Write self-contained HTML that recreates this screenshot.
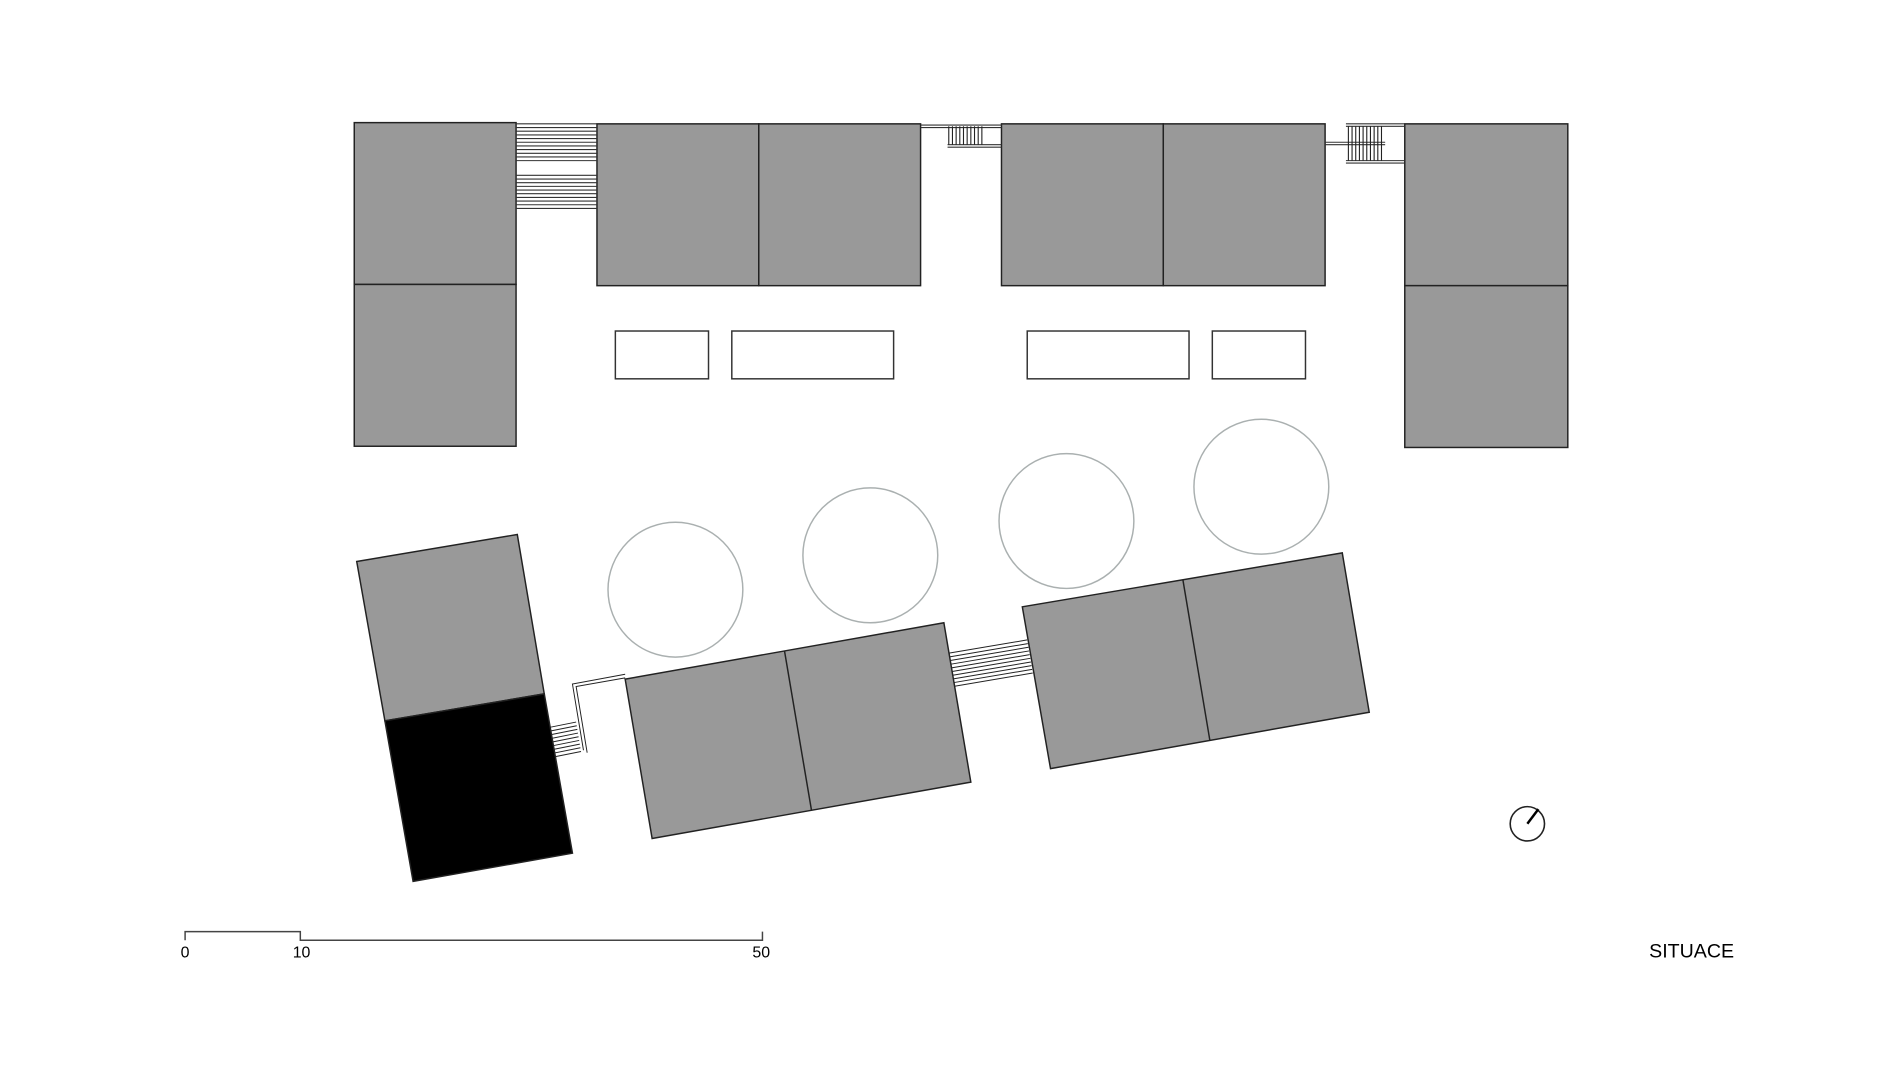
<!DOCTYPE html>
<html><head><meta charset="utf-8"><style>
html,body{margin:0;padding:0;background:#fff;}
svg{display:block}
</style></head><body>
<svg width="1900" height="1069" viewBox="0 0 1550 872" xmlns="http://www.w3.org/2000/svg">
<g fill="#999" stroke="#222" stroke-width="1.2">
<rect x="289" y="100" width="132" height="132"/>
<rect x="289" y="232" width="132" height="132"/>
<rect x="487" y="101" width="132" height="132"/>
<rect x="619" y="101" width="132" height="132"/>
<rect x="817" y="101" width="132" height="132"/>
<rect x="949" y="101" width="132" height="132"/>
<rect x="1146" y="101" width="133" height="132"/>
<rect x="1146" y="233" width="133" height="132"/>
</g>
<g fill="#fff" stroke="#333" stroke-width="1.2">
<rect x="502" y="270" width="76" height="39"/>
<rect x="597" y="270" width="132" height="39"/>
<rect x="838" y="270" width="132" height="39"/>
<rect x="989" y="270" width="76" height="39"/>
</g>
<g stroke="#333" stroke-width="0.9">
<line x1="421" y1="101" x2="487" y2="101"/><line x1="421" y1="104" x2="487" y2="104"/><line x1="421" y1="107" x2="487" y2="107"/><line x1="421" y1="110" x2="487" y2="110"/><line x1="421" y1="113" x2="487" y2="113"/><line x1="421" y1="116" x2="487" y2="116"/><line x1="421" y1="119" x2="487" y2="119"/><line x1="421" y1="122" x2="487" y2="122"/><line x1="421" y1="125" x2="487" y2="125"/><line x1="421" y1="128" x2="487" y2="128"/><line x1="421" y1="131" x2="487" y2="131"/>
<line x1="421" y1="143" x2="487" y2="143"/><line x1="421" y1="146" x2="487" y2="146"/><line x1="421" y1="149" x2="487" y2="149"/><line x1="421" y1="152" x2="487" y2="152"/><line x1="421" y1="155" x2="487" y2="155"/><line x1="421" y1="158" x2="487" y2="158"/><line x1="421" y1="161" x2="487" y2="161"/><line x1="421" y1="164" x2="487" y2="164"/><line x1="421" y1="167" x2="487" y2="167"/><line x1="421" y1="170" x2="487" y2="170"/>
<line x1="751" y1="102" x2="817" y2="102"/><line x1="751" y1="104" x2="817" y2="104"/>
<line x1="773" y1="118" x2="817" y2="118"/><line x1="773" y1="120" x2="817" y2="120"/>
<line x1="1081" y1="116" x2="1130" y2="116"/><line x1="1081" y1="118" x2="1130" y2="118"/>
<line x1="1098" y1="101" x2="1146" y2="101"/><line x1="1098" y1="103" x2="1146" y2="103"/>
<line x1="1098" y1="131" x2="1146" y2="131"/><line x1="1098" y1="133" x2="1146" y2="133"/>
</g>
<g stroke="#222" stroke-width="0.9">
<line x1="774" y1="103" x2="774" y2="118"/><line x1="777" y1="103" x2="777" y2="118"/><line x1="780" y1="103" x2="780" y2="118"/><line x1="783" y1="103" x2="783" y2="118"/><line x1="786" y1="103" x2="786" y2="118"/><line x1="789" y1="103" x2="789" y2="118"/><line x1="792" y1="103" x2="792" y2="118"/><line x1="795" y1="103" x2="795" y2="118"/><line x1="798" y1="103" x2="798" y2="118"/><line x1="801" y1="103" x2="801" y2="118"/>
<line x1="1100" y1="103" x2="1100" y2="131"/><line x1="1103" y1="103" x2="1103" y2="131"/><line x1="1106" y1="103" x2="1106" y2="131"/><line x1="1109" y1="103" x2="1109" y2="131"/><line x1="1112" y1="103" x2="1112" y2="131"/><line x1="1115" y1="103" x2="1115" y2="131"/><line x1="1118" y1="103" x2="1118" y2="131"/><line x1="1121" y1="103" x2="1121" y2="131"/><line x1="1124" y1="103" x2="1124" y2="131"/><line x1="1127" y1="103" x2="1127" y2="131"/>
</g>
<g fill="none" stroke="#aab0b0" stroke-width="1.2">
<circle cx="551" cy="481" r="55"/>
<circle cx="710" cy="453" r="55"/>
<circle cx="870" cy="425" r="55"/>
<circle cx="1029" cy="397" r="55"/>
</g>
<!-- bridges lower -->
<g stroke="#222" stroke-width="0.8">
<line x1="773" y1="533" x2="838" y2="522"/><line x1="773.5" y1="536" x2="838.5" y2="525"/><line x1="774" y1="539" x2="839" y2="528"/><line x1="774.5" y1="542" x2="839.5" y2="531"/><line x1="775" y1="545" x2="840" y2="534"/><line x1="775.5" y1="548" x2="840.5" y2="537"/><line x1="776" y1="551" x2="841" y2="540"/><line x1="776.5" y1="554" x2="841.5" y2="543"/><line x1="777" y1="557" x2="842" y2="546"/><line x1="777.5" y1="560" x2="842.5" y2="549"/>
<line x1="445" y1="594" x2="470" y2="589"/><line x1="445.5" y1="597" x2="470.5" y2="592"/><line x1="446" y1="600" x2="471" y2="595"/><line x1="446.5" y1="603" x2="471.5" y2="598"/><line x1="447" y1="606" x2="472" y2="601"/><line x1="447.5" y1="609" x2="472.5" y2="604"/><line x1="448" y1="612" x2="473" y2="607"/><line x1="448.5" y1="615" x2="473.5" y2="610"/><line x1="449" y1="618" x2="474" y2="613"/>
</g>
<polyline points="510,550 467,558 476,612" fill="none" stroke="#222" stroke-width="0.8"/>
<polyline points="510,553 470,560 479,614" fill="none" stroke="#222" stroke-width="0.8"/>
<g stroke="#222" stroke-width="1.2">
<polygon points="291,458 422,436 444,566 314,588" fill="#999"/>
<polygon points="314,588 444,566 467,696 337,719" fill="#000"/>
<polygon points="510,554 770,508 792,638 532,684" fill="#999"/>
<line x1="640" y1="531" x2="662" y2="661"/>
<polygon points="834,495 1095,451 1117,581 857,627" fill="#999"/>
<line x1="965" y1="473" x2="987" y2="604"/>
</g>
<circle cx="1246" cy="672" r="14" fill="none" stroke="#222" stroke-width="1.3"/>
<line x1="1246" y1="672" x2="1255" y2="660" stroke="#000" stroke-width="2"/>
<polyline points="151,767 151,760 245,760 245,767 622,767 622,760" fill="none" stroke="#444" stroke-width="1.2"/>
<g font-family="Liberation Sans, sans-serif" font-size="13" fill="#000" text-anchor="middle">
<text x="151" y="781">0</text>
<text x="246" y="781">10</text>
<text x="621" y="781">50</text>
</g>
<text x="1380" y="781" font-family="Liberation Sans, sans-serif" font-size="16" text-anchor="middle" fill="#000">SITUACE</text>
</svg>
</body></html>
